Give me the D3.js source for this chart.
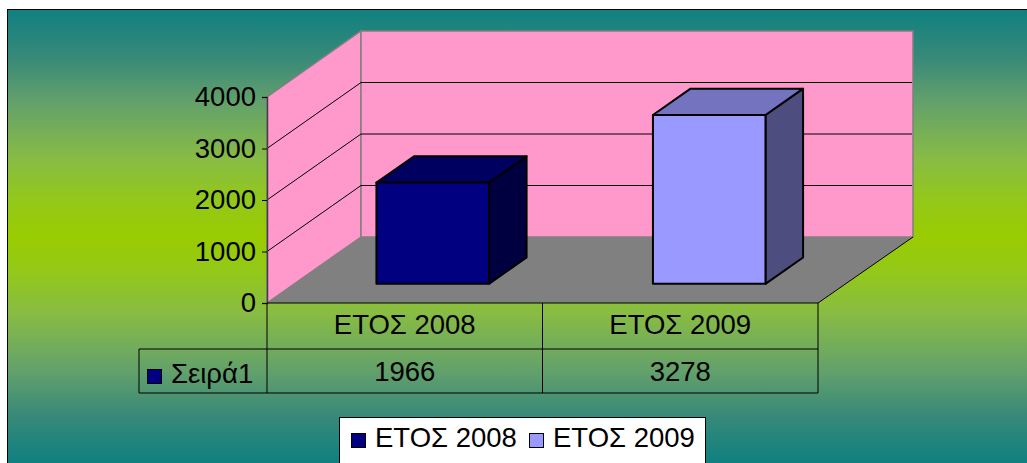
<!DOCTYPE html>
<html>
<head>
<meta charset="utf-8">
<script src="https://cdn.jsdelivr.net/npm/d3@7"></script>
<style>
  html, body { margin: 0; padding: 0; background: #fff; overflow: hidden; }
  text { font-family: "Liberation Sans", Arial, sans-serif; fill: #000; }
</style>
</head>
<body>
<div id="chart"></div>
<script>
const categories = ['ΕΤΟΣ 2008', 'ΕΤΟΣ 2009'];
const seriesName = 'Σειρά1';
const seriesValues = [1966, 3278];
const yTicks = [0, 1000, 2000, 3000, 4000];
const barColors = ['#000080', '#9999ff'];
const barTopColors = ['#000060', '#7373bf'];
const barSideColors = ['#000040', '#4d4d80'];

const width = 1027, height = 463;
const fontSize = 27.5;

// oblique offset of the whole floor, front edge to back edge
const depth = {x: 94, y: -66};
// bars sit between these fractions of the floor depth
const barZ = [0.29, 0.69];

const svg = d3.select('#chart').append('svg')
    .attr('width', width)
    .attr('height', height)
    .style('display', 'block');

// background fade is not linear in the original, so a few stops are needed
const grad = svg.append('defs').append('linearGradient')
    .attr('id', 'bg')
    .attr('gradientUnits', 'userSpaceOnUse')
    .attr('x1', 0).attr('y1', 10).attr('x2', 0).attr('y2', 463);
const stops = [
    [0, '#108080'], [0.11, '#3a8a78'], [0.2, '#62a06c'], [0.33, '#88bc44'],
    [0.42, '#93c81a'], [0.5, '#99cc00'],
    [0.58, '#93c81a'], [0.67, '#88bc44'], [0.8, '#62a06c'], [0.89, '#3a8a78'], [1, '#108080']
];
grad.selectAll('stop').data(stops).join('stop')
    .attr('offset', d => d[0])
    .attr('stop-color', d => d[1]);

svg.append('rect')
    .attr('x', 7.5).attr('y', 9.5)
    .attr('width', width).attr('height', height)
    .attr('fill', 'url(#bg)')
    .attr('stroke', '#000');

const yScale = d3.scaleLinear().domain([0, 4000]).range([303, 97]);
const xScale = d3.scaleBand().domain(categories).range([267, 818]);
const barScale = d3.scaleBand().domain(categories).range([267.2, 820.2])
    .paddingInner(0.593).paddingOuter(0.2965);

const line = d3.line();
const x0 = xScale.range()[0], x1 = xScale.range()[1];
const y0 = yScale(0), yTop = yScale(4000);

// side wall, back wall, floor
svg.append('path')
    .attr('d', line([[x0, y0], [x0 + depth.x, y0 + depth.y], [x0 + depth.x, yTop + depth.y], [x0, yTop]]) + 'Z')
    .attr('fill', '#ff99cc').attr('stroke', '#808080').attr('stroke-width', 1.5);
svg.append('path')
    .attr('d', line([[x0 + depth.x, y0 + depth.y], [x1 + depth.x + 1, y0 + depth.y], [x1 + depth.x + 1, yTop + depth.y], [x0 + depth.x, yTop + depth.y]]) + 'Z')
    .attr('fill', '#ff99cc').attr('stroke', '#808080').attr('stroke-width', 1.5);
svg.append('path')
    .attr('d', line([[x0, y0], [x1, y0], [x1 + depth.x + 1, y0 + depth.y], [x0 + depth.x, y0 + depth.y]]) + 'Z')
    .attr('fill', '#808080');
svg.append('line')
    .attr('x1', x1).attr('y1', y0)
    .attr('x2', x1 + depth.x + 1).attr('y2', y0 + depth.y)
    .attr('stroke', '#000');

// gridlines over both walls
svg.append('g').selectAll('path')
    .data(yTicks.filter(d => d > 0 && d < 4000))
    .join('path')
    .attr('d', d => line([[x0, yScale(d)], [x0 + depth.x, yScale(d) + depth.y], [x1 + depth.x, yScale(d) + depth.y]]))
    .attr('fill', 'none').attr('stroke', '#000').attr('stroke-width', 1);

// value axis
const yAxis = d3.axisLeft(yScale).tickValues(yTicks).tickFormat(d3.format('d')).tickSize(5).tickPadding(6);
const yAxisG = svg.append('g').attr('transform', `translate(${x0},0)`).call(yAxis);
yAxisG.select('.domain').attr('stroke', '#404040').attr('stroke-width', 1.5);
yAxisG.selectAll('text').style('font-size', fontSize + 'px')
    .style('font-family', '"Liberation Sans", Arial, sans-serif').attr('fill', '#000');

// 3D bars
const bars = svg.append('g').selectAll('g')
    .data(categories.map((c, i) => ({c, v: seriesValues[i], i})))
    .join('g');

function corners(d) {
    const left = barScale(d.c), right = left + barScale.bandwidth();
    const fx = depth.x * barZ[0], fy = depth.y * barZ[0];
    const bx = depth.x * barZ[1], by = depth.y * barZ[1];
    return {
        fl: left + fx, fr: right + fx, br: right + bx, bl: left + bx,
        fBase: y0 + fy, fTop: yScale(d.v) + fy,
        bBase: y0 + by, bTop: yScale(d.v) + by
    };
}

bars.append('path')
    .attr('d', d => {
        const c = corners(d);
        return line([[c.fr, c.fBase], [c.br, c.bBase], [c.br, c.bTop], [c.fr, c.fTop]]) + 'Z';
    })
    .attr('fill', d => barSideColors[d.i]);
bars.append('path')
    .attr('d', d => {
        const c = corners(d);
        return line([[c.fl, c.fTop], [c.fr, c.fTop], [c.br, c.bTop], [c.bl, c.bTop]]) + 'Z';
    })
    .attr('fill', d => barTopColors[d.i]);
bars.append('path')
    .attr('d', d => {
        const c = corners(d);
        return line([[c.fl, c.fBase], [c.fr, c.fBase], [c.fr, c.fTop], [c.fl, c.fTop]]) + 'Z';
    })
    .attr('fill', d => barColors[d.i]);
bars.selectAll('path')
    .attr('stroke', '#000').attr('stroke-width', 2).attr('stroke-linejoin', 'round');

// data table
const rowMid = 349, rowBottom = 393, tableLeft = 139;
const table = svg.append('g').attr('stroke', '#000').attr('stroke-width', 1);
table.append('line').attr('x1', x0).attr('x2', x1).attr('y1', y0).attr('y2', y0);
table.append('line').attr('x1', tableLeft).attr('x2', x1).attr('y1', rowMid).attr('y2', rowMid);
table.append('line').attr('x1', tableLeft).attr('x2', x1).attr('y1', rowBottom).attr('y2', rowBottom);
table.append('line').attr('x1', tableLeft).attr('x2', tableLeft).attr('y1', rowMid).attr('y2', rowBottom);
table.selectAll('.col')
    .data([x0, xScale(categories[1]), x1])
    .join('line')
    .attr('class', 'col')
    .attr('x1', d => d).attr('x2', d => d)
    .attr('y1', y0).attr('y2', rowBottom);

svg.append('g').selectAll('text')
    .data(categories)
    .join('text')
    .attr('x', d => xScale(d) + xScale.bandwidth() / 2)
    .attr('y', 334)
    .attr('text-anchor', 'middle')
    .style('font-size', fontSize + 'px')
    .text(d => d);
svg.append('g').selectAll('text')
    .data(seriesValues)
    .join('text')
    .attr('x', (d, i) => xScale(categories[i]) + xScale.bandwidth() / 2)
    .attr('y', 381)
    .attr('text-anchor', 'middle')
    .style('font-size', fontSize + 'px')
    .text(d => d);

svg.append('rect')
    .attr('x', 147.5).attr('y', 369.5).attr('width', 14).attr('height', 14)
    .attr('fill', barColors[0]).attr('stroke', '#000');
svg.append('text')
    .attr('x', 171).attr('y', 383)
    .style('font-size', fontSize + 'px')
    .text(seriesName);

// legend
svg.append('rect')
    .attr('x', 339.5).attr('y', 417.5).attr('width', 366).attr('height', 50)
    .attr('fill', '#fff').attr('stroke', '#000');
const legendX = [351, 529];
const legend = svg.append('g').selectAll('g')
    .data(categories)
    .join('g')
    .attr('transform', (d, i) => `translate(${legendX[i]},0)`);
legend.append('rect')
    .attr('x', 0.5).attr('y', 433.5).attr('width', 14).attr('height', 14)
    .attr('fill', (d, i) => barColors[i]).attr('stroke', '#000');
legend.append('text')
    .attr('x', 24).attr('y', 447)
    .style('font-size', fontSize + 'px')
    .text(d => d);
</script>
</body>
</html>
